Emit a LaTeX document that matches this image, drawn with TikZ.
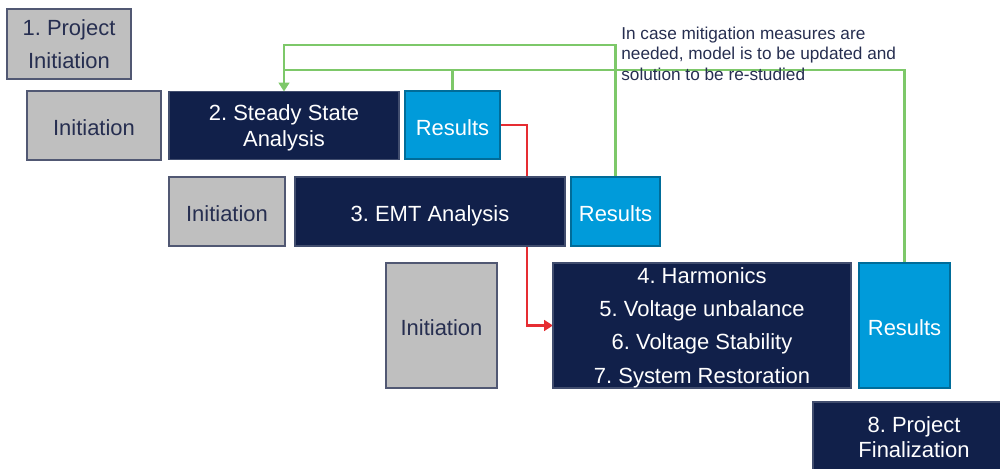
\documentclass[tikz,border=0pt]{standalone}
\usepackage{fontspec}
\setmainfont{Liberation Sans}
\frenchspacing
\usetikzlibrary{arrows.meta,positioning}
\pgfdeclarelayer{back}
\pgfsetlayers{back,main}

\definecolor{navy}{RGB}{17,32,74}
\definecolor{sky}{RGB}{0,155,218}
\definecolor{stone}{RGB}{191,191,191}
\definecolor{leaf}{RGB}{125,200,105}
\definecolor{alarm}{RGB}{230,45,50}
\definecolor{ink}{RGB}{38,46,80}

\begin{document}
\begin{tikzpicture}[x=0.02cm, y=-0.02cm, >={Triangle[length=5pt,width=6pt]},
  box/.style={rectangle, inner sep=0pt, outer sep=0pt, align=center, font=\fontsize{12.5}{14.7}\selectfont,
              line width=0.6pt, text depth=0pt, execute at begin node={\rule{0pt}{0.95em}}},
  init/.style={box, fill=stone, draw=ink!80, text=ink},
  task/.style={box, fill=navy, draw=navy!80!white, text=white},
  result/.style={box, fill=sky, draw=sky!70!black, text=white},
  wide/.style={font=\fontsize{12.5}{18.8}\selectfont},
  dims/.style 2 args={minimum width=#1*0.02cm, minimum height=#2*0.02cm},
  redo/.style={draw=leaf, line width=1.6pt},
  rerun/.style={draw=alarm, line width=1.6pt}]
  \useasboundingbox (0,0) rectangle (1000,469);
  \clip (0,0) rectangle (1000,469);

  \node[init, wide, dims={124}{70}] (start) at (69,44) {1. Project\\Initiation};

  \node[init, dims={134}{69}]   (init1)  at (94,125.5)  {Initiation};
  \node[task, dims={230}{68}]   (steady) at (284,125.5) {2. Steady State\\Analysis};
  \node[result, dims={95}{68}]  (res1)   at (452.5,125) {Results};

  \node[init, dims={116}{69}]   (init2)  at (227,211.5)   {Initiation};
  \node[task, dims={270}{69}]   (emt)    at (430,211.5)   {3. EMT Analysis};
  \node[result, dims={89}{69}]  (res2)   at (615.5,211.5) {Results};

  \node[init, dims={111}{125}]  (init3)  at (441.5,325.5) {Initiation};
  \node[task, wide, dims={298}{125}] (study) at (702,325.5)
        {4. Harmonics\\5. Voltage unbalance\\6. Voltage Stability\\7. System Restoration};
  \node[result, dims={91}{125}] (res3)   at (904.5,325.5) {Results};

  \node[task, dims={202}{70}]   (finish) at (914,437) {8. Project\\Finalization};

  \node[anchor=north west, inner sep=0pt, align=left, text=ink,
        font=\fontsize{9.8}{11.7}\selectfont] (note) at (621,26.5)
        {In case mitigation measures are\\needed, model is to be updated and\\solution to be re-studied};

  % feedback loops and hand-over
  \coordinate (outer) at (284,45);
  \coordinate (inner) at (284,70);
  \coordinate (drop)  at (527,0);
  \begin{pgfonlayer}{back}
    \draw[redo,->] (res2.north) |- (outer) -- (steady.north);
    \draw[redo] (res3.north) |- (inner);
    \draw[redo] (res1.north) -- (res1.north |- inner);
    \draw[rerun,->] (res1.east) -- (res1.east -| drop) |- (study.west);
  \end{pgfonlayer}
\end{tikzpicture}
\end{document}
